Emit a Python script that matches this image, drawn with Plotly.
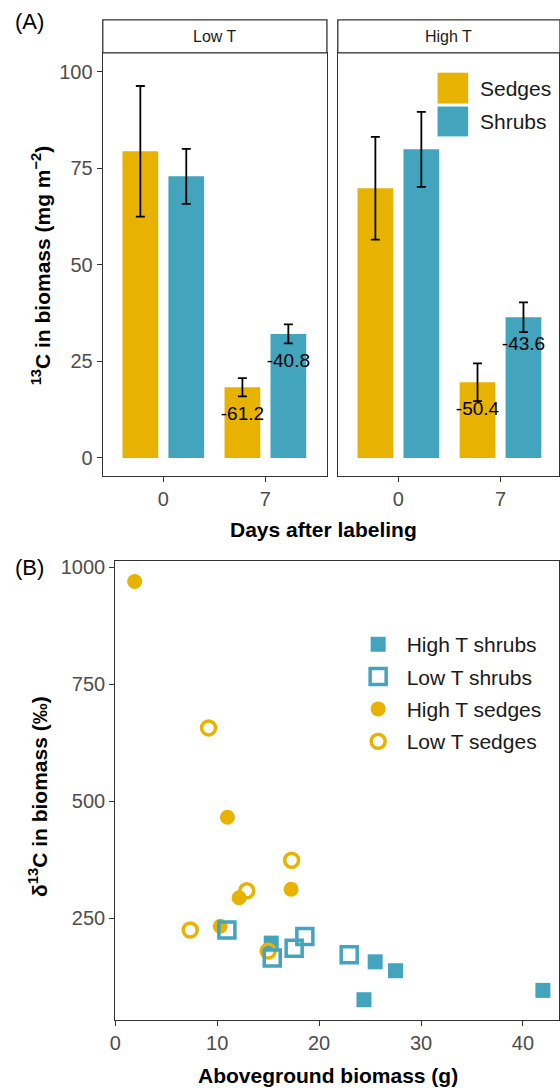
import plotly.graph_objects as go

W, H = 560, 1088
SEDGE = "#E7B200"
SHRUB = "#43A4BE"
FONT = "Liberation Sans, Arial, sans-serif"

# ---- Panel A data ----
days = ["0", "7"]
low_sedges = [79.4, 18.3]
low_sedges_se = [16.9, 2.35]
low_shrubs = [72.9, 32.1]
low_shrubs_se = [7.1, 2.45]
high_sedges = [69.8, 19.6]
high_sedges_se = [13.3, 4.9]
high_shrubs = [79.9, 36.4]
high_shrubs_se = [9.7, 3.85]
low_sedges_lab = ["", "-61.2"]
low_shrubs_lab = ["", "-40.8"]
high_sedges_lab = ["", "-50.4"]
high_shrubs_lab = ["", "-43.6"]

# ---- Panel B data ----
hs_shrub_x = [15.3, 25.5, 27.5, 24.4, 41.96]
hs_shrub_y = [197, 157, 138, 76, 96]
ls_shrub_x = [10.95, 15.4, 17.55, 18.6, 22.95]
ls_shrub_y = [225, 165, 186, 211, 172]
hs_sedge_x = [1.9, 11.0, 12.15, 17.25, 10.3]
hs_sedge_y = [970, 466, 294, 312, 233]
ls_sedge_x = [7.35, 9.15, 12.9, 17.3, 15.0]
ls_sedge_y = [225, 657, 309, 374, 180]

pos = list(range(len(days)))
BW = 0.35
OFF = 0.225
LAB_DROP = 7.3

fig = go.Figure()

def add_panel(xa, ya, sed, sed_se, shr, shr_se, sed_lab, shr_lab):
    fig.add_trace(go.Bar(x=pos, y=sed, width=BW, offset=-OFF - BW / 2, marker=dict(color=SEDGE, line=dict(width=0)),
                         error_y=dict(type="data", array=sed_se, color="black", thickness=1.8, width=4.5),
                         showlegend=False, xaxis=xa, yaxis=ya, name="Sedges"))
    fig.add_trace(go.Bar(x=pos, y=shr, width=BW, offset=OFF - BW / 2, marker=dict(color=SHRUB, line=dict(width=0)),
                         error_y=dict(type="data", array=shr_se, color="black", thickness=1.8, width=4.5),
                         showlegend=False, xaxis=xa, yaxis=ya, name="Shrubs"))
    tx, ty, tt = [], [], []
    for p, v, l in zip(pos, sed, sed_lab):
        if l:
            tx.append(p - OFF); ty.append(v - LAB_DROP); tt.append(l)
    for p, v, l in zip(pos, shr, shr_lab):
        if l:
            tx.append(p + OFF); ty.append(v - LAB_DROP); tt.append(l)
    fig.add_trace(go.Scatter(x=tx, y=ty, text=tt, mode="text", textfont=dict(size=19, color="black", family=FONT),
                             showlegend=False, xaxis=xa, yaxis=ya, hoverinfo="skip"))

add_panel("x", "y", low_sedges, low_sedges_se, low_shrubs, low_shrubs_se, low_sedges_lab, low_shrubs_lab)
add_panel("x2", "y2", high_sedges, high_sedges_se, high_shrubs, high_shrubs_se, high_sedges_lab, high_shrubs_lab)

# Panel B scatter
fig.add_trace(go.Scatter(x=hs_shrub_x, y=hs_shrub_y, mode="markers", name="High T shrubs", legendrank=1,
                         legendgroup="a",
                         marker=dict(symbol="square", size=15, color=SHRUB, line=dict(width=0)),
                         xaxis="x3", yaxis="y3"))
fig.add_trace(go.Scatter(x=hs_sedge_x, y=hs_sedge_y, mode="markers", name="High T sedges", legendrank=3,
                         legendgroup="c",
                         marker=dict(symbol="circle", size=15, color=SEDGE, line=dict(width=0)),
                         xaxis="x3", yaxis="y3"))
fig.add_trace(go.Scatter(x=ls_sedge_x, y=ls_sedge_y, mode="markers", name="Low T sedges", legendrank=4,
                         legendgroup="d",
                         marker=dict(symbol="circle-open", size=14, color=SEDGE, line=dict(width=3.5, color=SEDGE)),
                         xaxis="x3", yaxis="y3"))
fig.add_trace(go.Scatter(x=ls_shrub_x, y=ls_shrub_y, mode="markers", name="Low T shrubs", legendrank=2,
                         legendgroup="b",
                         marker=dict(symbol="square-open", size=16, color=SHRUB, line=dict(width=3.5, color=SHRUB)),
                         xaxis="x3", yaxis="y3"))

AX = dict(showline=True, mirror=True, linecolor="#333333", linewidth=1.3, showgrid=False, zeroline=False,
          ticks="outside", ticklen=5, tickwidth=1.3, tickcolor="#333333",
          tickfont=dict(size=20, color="#4D4D4D", family=FONT))

top_dom = [1 - 473 / H, 1 - 48 / H]
fig.update_layout(
    width=W, height=H, margin=dict(l=0, r=0, t=0, b=0),
    paper_bgcolor="white", plot_bgcolor="white",
    font=dict(family=FONT, color="black"),
    barmode="overlay",
    xaxis=dict(AX, domain=[98 / W, 325 / W], anchor="y", range=[-0.593, 1.603],
               tickvals=pos, ticktext=days),
    yaxis=dict(AX, domain=top_dom, anchor="x", range=[-4.64, 104.9], tickvals=[0, 25, 50, 75, 100]),
    xaxis2=dict(AX, domain=[336 / W, 1], anchor="y2", range=[-0.593, 1.573],
                tickvals=pos, ticktext=days),
    yaxis2=dict(AX, domain=top_dom, anchor="x2", range=[-4.64, 104.9], showticklabels=False, ticks=""),
    xaxis3=dict(AX, domain=[110.7 / W, 1], anchor="y3", range=[0, 43.54], tickvals=[0, 10, 20, 30, 40]),
    yaxis3=dict(AX, domain=[1 - 1020 / H, 1 - 559 / H], anchor="x3", range=[32, 1012.8],
                tickvals=[250, 500, 750, 1000]),
    legend=dict(x=348 / W, xanchor="left", y=1 - 622 / H, yanchor="top", tracegroupgap=2, itemwidth=47,
                font=dict(size=21, color="#1A1A1A", family=FONT), bgcolor="rgba(0,0,0,0)",
                itemsizing="trace"),
)

shapes = []
# strips
for x0, x1 in [(98, 325), (336, 561)]:
    shapes.append(dict(type="rect", xref="paper", yref="paper", x0=x0 / W, x1=x1 / W, y0=1 - 48 / H, y1=1 - 15 / H,
                       line=dict(color="#333333", width=1.3), fillcolor="white"))
# panel A legend keys
for (y0, y1), c in zip([(68, 99), (102, 132)], [SEDGE, SHRUB]):
    shapes.append(dict(type="rect", xref="paper", yref="paper", x0=437 / W, x1=468 / W, y0=1 - y1 / H, y1=1 - y0 / H,
                       line=dict(width=0), fillcolor=c))
fig.update_layout(shapes=shapes)

ann = []
ann.append(dict(text="Low T", x=211.5 / W, y=1 - 31.5 / H, font=dict(size=16, color="#1A1A1A")))
ann.append(dict(text="High T", x=448.5 / W, y=1 - 31.5 / H, font=dict(size=16, color="#1A1A1A")))
ann.append(dict(text="Sedges", x=478 / W, y=1 - 84 / H, xanchor="left", font=dict(size=21, color="#1A1A1A")))
ann.append(dict(text="Shrubs", x=478 / W, y=1 - 117 / H, xanchor="left", font=dict(size=21, color="#1A1A1A")))
ann.append(dict(text="(A)", x=24 / W, y=1 - 17 / H, font=dict(size=22, color="black")))
ann.append(dict(text="(B)", x=24 / W, y=1 - 565 / H, font=dict(size=22, color="black")))
ann.append(dict(text="<b>Days after labeling</b>", x=322 / W, y=1 - 527 / H, font=dict(size=21, color="black")))
ann.append(dict(text="<b>Aboveground biomass (g)</b>", x=326 / W, y=1 - 1075 / H, font=dict(size=21, color="black")))
ann.append(dict(text="<b><sup>13</sup>C in biomass (mg m<sup>−2</sup>)</b>", x=35 / W, y=1 - 262 / H, textangle=-90,
                font=dict(size=21, color="black")))
ann.append(dict(text="<b>δ<sup>13</sup>C in biomass (‰)</b>", x=33 / W, y=1 - 795 / H, textangle=-90,
                font=dict(size=21, color="black")))
for a in ann:
    a.setdefault("xref", "paper"); a.setdefault("yref", "paper"); a.setdefault("showarrow", False)
    a.setdefault("xanchor", "center"); a.setdefault("yanchor", "middle")
    a["font"]["family"] = FONT
fig.update_layout(annotations=ann)

fig.write_html("out.html", config={"displayModeBar": False},
               post_script="document.body.style.margin='0';document.body.style.padding='0';")
